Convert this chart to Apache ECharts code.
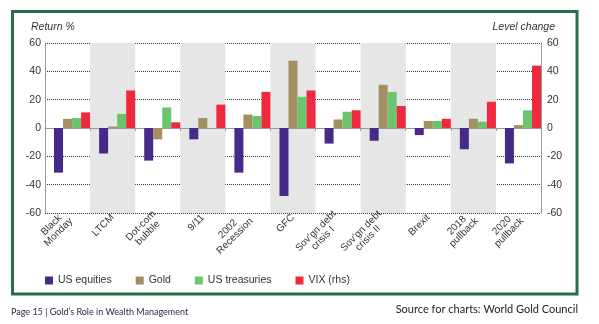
<!DOCTYPE html>
<html>
<head>
<meta charset="utf-8">
<script src="https://cdn.jsdelivr.net/npm/echarts@6/dist/echarts.min.js"></script>
<style>
  html, body { margin: 0; padding: 0; background: #ffffff; }
  #chart { width: 599px; height: 324px; }
</style>
</head>
<body>
<div id="chart"></div>
<script>
// Market stress episodes
const categories = [
  'Black\nMonday', 'LTCM', 'Dot-com\nbubble', '9/11', '2002\nRecession', 'GFC',
  'Sov’gn debt\ncrisis I', 'Sov’gn debt\ncrisis II', 'Brexit', '2018\npullback', '2020\npullback'
];

// Returns (%) over each episode, left axis
const usEquities   = [-31.5, -18, -23, -8, -31.5, -48, -11, -9, -5, -15, -25];
const gold         = [6.5, 1, -8, 7, 9.5, 47.5, 6, 30.5, 5, 6.5, 2];
const usTreasuries = [7, 10, 14.5, 0, 8.5, 22, 11.5, 25.5, 5, 4.5, 12.5];

// VIX level change, right axis
const vix = [11, 26.5, 4, 16.5, 25.5, 26.5, 12.5, 15.5, 6.5, 18.5, 44];

// Shared scale for both value axes
const axisMin = -60, axisMax = 60, axisStep = 20;

const seriesNames = ['US equities', 'Gold', 'US treasuries', 'VIX (rhs)'];
const seriesColors = ['#472a88', '#a38f60', '#6cc46e', '#ef2a3e'];

const font = 'Arial, "Liberation Sans", sans-serif';
const labelColor = '#333333';

const chart = echarts.init(document.getElementById('chart'), null, { renderer: 'canvas' });

// Each category keeps an empty leading slot, so the four bars sit to the right
const spacer = {
  name: 'spacer', type: 'bar', xAxisIndex: 0, yAxisIndex: 0,
  data: categories.map(() => null), silent: true
};

function barSeries(name, data, color, yAxisIndex) {
  return {
    name, type: 'bar', xAxisIndex: 0, yAxisIndex, data,
    barGap: '0%', barCategoryGap: '0%',
    itemStyle: { color }
  };
}

chart.setOption({
  animation: false,
  textStyle: { fontFamily: font },
  grid: { left: 45, right: 58, top: 43, bottom: 111, containLabel: false },
  legend: {
    data: seriesNames,
    left: 45, top: 275, padding: 0,
    icon: 'rect', itemWidth: 8, itemHeight: 8, itemGap: 24,
    textStyle: { color: '#333', fontSize: 10.5, fontFamily: font }
  },
  xAxis: [
    {
      type: 'category', data: categories, position: 'bottom',
      axisLine: { onZero: true, lineStyle: { color: '#9a9a9a', width: 1 } },
      axisTick: { show: true, length: 3, interval: 0, lineStyle: { color: '#9a9a9a' } },
      axisLabel: { show: false },
      splitLine: { show: false },
      splitArea: { show: true, interval: 0, areaStyle: { color: ['rgba(255,255,255,0)', '#e6e6e6'] } }
    },
    {
      type: 'category', data: categories, position: 'bottom',
      axisLine: { show: false, onZero: false },
      axisTick: { show: false },
      splitLine: { show: false },
      axisLabel: {
        interval: 0, rotate: 45, margin: 3,
        formatter: v => v.split('\n').map(s => '{c|' + s + '}').join('\n'),
        rich: { c: { align: 'center', fontSize: 10, lineHeight: 10, color: labelColor, fontFamily: font } }
      }
    }
  ],
  yAxis: [
    {
      type: 'value', min: axisMin, max: axisMax, interval: axisStep, position: 'left',
      axisLine: { show: true, lineStyle: { color: '#9a9a9a' } },
      axisTick: { show: false },
      axisLabel: { color: labelColor, fontSize: 10.5, margin: 4 },
      splitLine: { show: true, lineStyle: { color: '#333333', type: [1, 1], width: 1 } }
    },
    {
      type: 'value', min: axisMin, max: axisMax, interval: axisStep, position: 'right',
      axisLine: { show: true, lineStyle: { color: '#9a9a9a' } },
      axisTick: { show: false },
      axisLabel: { color: labelColor, fontSize: 10.5, margin: 6 },
      splitLine: { show: false }
    }
  ],
  series: [
    spacer,
    barSeries(seriesNames[0], usEquities, seriesColors[0], 0),
    barSeries(seriesNames[1], gold, seriesColors[1], 0),
    barSeries(seriesNames[2], usTreasuries, seriesColors[2], 0),
    barSeries(seriesNames[3], vix, seriesColors[3], 1)
  ],
  graphic: [
    {
      type: 'rect', silent: true, z: 100,
      shape: { x: 12.5, y: 11.5, width: 564.5, height: 282.5 },
      style: { fill: 'none', stroke: '#276d49', lineWidth: 3 }
    },
    {
      type: 'text', left: 31, top: 22,
      style: { text: 'Return %', fill: labelColor, font: 'italic 10.5px ' + font }
    },
    {
      type: 'text', right: 44, top: 22,
      style: { text: 'Level change', fill: labelColor, font: 'italic 10.5px ' + font, textAlign: 'right' }
    },
    {
      type: 'text', left: 11, top: 308,
      style: { text: 'Page 15 | Gold’s Role in Wealth Management', fill: '#2b2d45', font: '9px Lato, "Noto Sans", sans-serif' }
    },
    {
      type: 'text', right: 21, top: 304,
      style: { text: 'Source for charts: World Gold Council', fill: '#222222', font: '11px Lato, "Noto Sans", sans-serif', textAlign: 'right' }
    }
  ]
});
</script>
</body>
</html>
